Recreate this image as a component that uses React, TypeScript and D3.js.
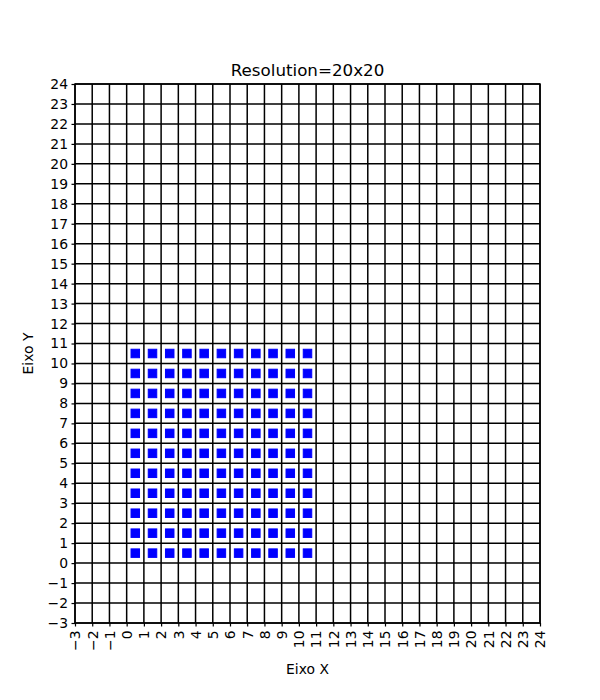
import React, { useRef, useEffect } from 'react';
import * as d3 from 'd3';

// grid cells filled (cell centres at i + 0.5)
const cellsX = [0, 1, 2, 3, 4, 5, 6, 7, 8, 9, 10];
const cellsY = [0, 1, 2, 3, 4, 5, 6, 7, 8, 9, 10];
const ticks = d3.range(-3, 25);
const title = 'Resolution=20x20';

const App = () => {
    const ref = useRef<SVGSVGElement>(null);

    useEffect(() => {
        const svg = d3.select(ref.current);
        svg.selectAll('*').remove();

        const margin = { top: 84, right: 60, bottom: 77, left: 75 };
        const width = 600, height = 700;
        const font = 'DejaVu Sans, sans-serif';

        const x = d3.scaleLinear().domain([-3, 24]).range([margin.left, width - margin.right]);
        const y = d3.scaleLinear().domain([-3, 24]).range([height - margin.bottom, margin.top]);

        svg.append('rect').attr('width', width).attr('height', height).attr('fill', '#fff');

        // points
        const pts = cellsX.flatMap(i => cellsY.map(j => ({ x: i + 0.5, y: j + 0.5 })));
        const s = 8.5;
        svg.append('g').selectAll('rect')
            .data(pts)
            .enter().append('rect')
            .attr('x', d => x(d.x) - s / 2)
            .attr('y', d => y(d.y) - s / 2)
            .attr('width', s)
            .attr('height', s)
            .attr('fill', '#0000ff')
            .attr('stroke', '#0000ff')
            .attr('stroke-width', 1)
            .attr('stroke-linejoin', 'miter');

        // grid
        const grid = svg.append('g').attr('stroke', '#000').attr('stroke-width', 1.5);
        ticks.forEach(t => {
            grid.append('line')
                .attr('x1', x(t)).attr('x2', x(t))
                .attr('y1', y(-3)).attr('y2', y(24));
            grid.append('line')
                .attr('y1', y(t)).attr('y2', y(t))
                .attr('x1', x(-3)).attr('x2', x(24));
        });

        // axes
        const xAxis = svg.append('g')
            .attr('transform', `translate(0, ${height - margin.bottom})`)
            .call(d3.axisBottom(x).tickValues(ticks).tickSize(3.5).tickPadding(3)
                .tickFormat(d => String(d).replace('-', '\u2212')));
        xAxis.selectAll('text')
            .attr('font-family', font).attr('font-size', 13.9).attr('fill', '#000')
            .attr('transform', 'rotate(-90)')
            .attr('text-anchor', 'end')
            .attr('dy', '0.35em')
            .attr('x', -7.5)
            .attr('y', 0);

        const yAxis = svg.append('g')
            .attr('transform', `translate(${margin.left}, 0)`)
            .call(d3.axisLeft(y).tickValues(ticks).tickSize(3.5).tickPadding(3.5)
                .tickFormat(d => String(d).replace('-', '\u2212')));
        yAxis.selectAll('text')
            .attr('font-family', font).attr('font-size', 13.9).attr('fill', '#000');

        [xAxis, yAxis].forEach(a => {
            a.selectAll('line').attr('stroke', '#000').attr('stroke-width', 1.2);
            a.select('.domain').remove();
        });

        svg.append('rect')
            .attr('x', x(-3)).attr('y', y(24))
            .attr('width', x(24) - x(-3)).attr('height', y(-3) - y(24))
            .attr('fill', 'none').attr('stroke', '#000').attr('stroke-width', 1.5);

        svg.append('text')
            .attr('x', (x(-3) + x(24)) / 2).attr('y', 76)
            .attr('text-anchor', 'middle')
            .attr('font-family', font).attr('font-size', 16.7)
            .text(title);

        svg.append('text')
            .attr('x', (x(-3) + x(24)) / 2).attr('y', 674)
            .attr('text-anchor', 'middle')
            .attr('font-family', font).attr('font-size', 13.9)
            .text('Eixo X');

        svg.append('text')
            .attr('transform', `translate(33, ${(y(-3) + y(24)) / 2}) rotate(-90)`)
            .attr('text-anchor', 'middle')
            .attr('font-family', font).attr('font-size', 13.9)
            .text('Eixo Y');
    }, []);

    return (
        <svg ref={ref} width={600} height={700}
            style={{ position: 'absolute', left: 0, top: 0 }}></svg>
    );
};

export default App;
